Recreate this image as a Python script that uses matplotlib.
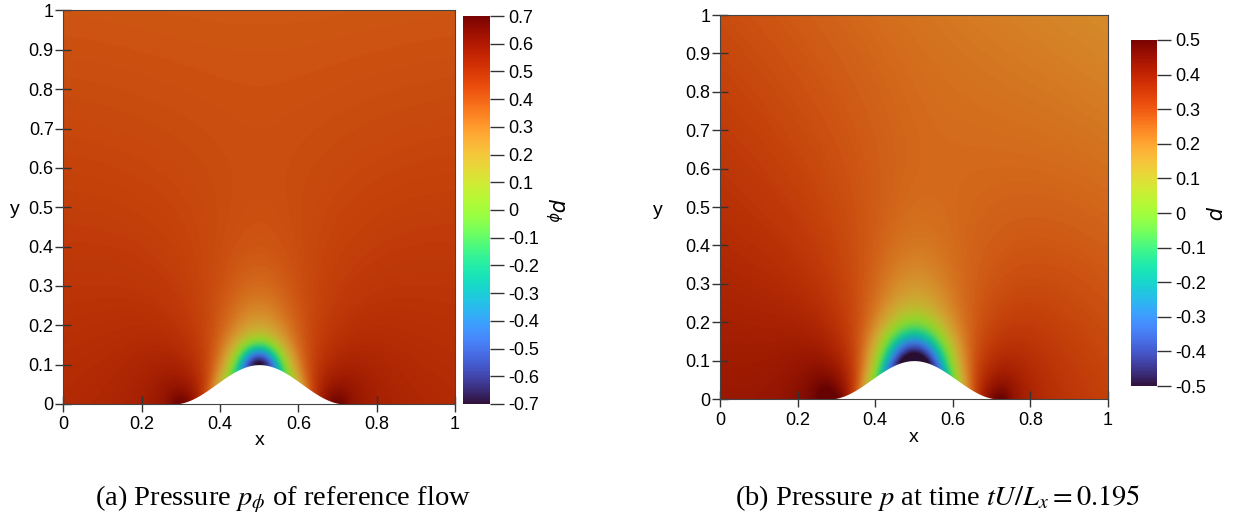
import numpy as np
import matplotlib as mpl

mpl.use('Agg')
import matplotlib.pyplot as plt
from matplotlib.colors import Normalize, ListedColormap
from matplotlib.cm import ScalarMappable

plt.rcParams['font.family'] = ['Liberation Sans', 'DejaVu Sans']
plt.rcParams['axes.unicode_minus'] = False

# ---- values ----
x_ticks = [0, 0.2, 0.4, 0.6, 0.8, 1]
x_tick_labels = ['0', '0.2', '0.4', '0.6', '0.8', '1']
y_ticks = [0, 0.1, 0.2, 0.3, 0.4, 0.5, 0.6, 0.7, 0.8, 0.9, 1]
y_tick_labels = ['0', '0.1', '0.2', '0.3', '0.4', '0.5', '0.6', '0.7', '0.8', '0.9', '1']

cbar_a_ticks = [-0.7, -0.6, -0.5, -0.4, -0.3, -0.2, -0.1, 0, 0.1, 0.2, 0.3, 0.4, 0.5, 0.6, 0.7]
cbar_a_labels = ['-0.7', '-0.6', '-0.5', '-0.4', '-0.3', '-0.2', '-0.1', '0',
                 '0.1', '0.2', '0.3', '0.4', '0.5', '0.6', '0.7']
cbar_b_ticks = [-0.5, -0.4, -0.3, -0.2, -0.1, 0, 0.1, 0.2, 0.3, 0.4, 0.5]
cbar_b_labels = ['-0.5', '-0.4', '-0.3', '-0.2', '-0.1', '0', '0.1', '0.2', '0.3', '0.4', '0.5']

# bump on the lower wall: centre, height, half width
bump = [0.5, 0.1, 0.22]

# far-field pressure at the corners: top-left, top-right, bottom-left, bottom-right
far_a = [0.40, 0.40, 0.50, 0.50]
far_b = [0.30, 0.20, 0.40, 0.30]
# disturbance of the bump: gain, spread in x, spread in y
dist_a = [0.6, 1.0, 1.5]
dist_b = [0.55, 1.1, 1.8]
# suction spot on the crest: strength, radius
crest_a = [0.5, 0.05]
crest_b = [0.3, 0.08]

captions = [r'(a) Pressure $p_\phi$ of reference flow',
            r'(b) Pressure $p$ at time $tU/L_x = 0.195$']
cbar_titles = [r'$p_\phi$', r'$p$']

# ---- pressure field from linearised potential flow over the bump ----
bc, bh, bw = bump
xg = np.linspace(0, 1, 300)
yg = np.linspace(0, 1, 300)
X, Y = np.meshgrid(xg, yg)
xi = np.linspace(bc - bw, bc + bw, 1200)
dxi = xi[1] - xi[0]
dh = -bh * np.pi / (2 * bw) * np.sin(np.pi * (xi - bc) / bw)


def bump_height(x):
    return np.where(np.abs(x - bc) < bw, bh * np.cos(np.pi * (x - bc) / (2 * bw)) ** 2, 0.0)


def pressure(far, dist, crest):
    gain, sx, sy = dist
    h = bump_height(X)
    eta = np.clip((Y - h) / (1 - h), 0.004, None) / sy
    xq = (bc + (X - bc) / sx).ravel()
    eq = eta.ravel()
    u = np.zeros_like(xq)
    v = np.zeros_like(xq)
    step = 3000
    for i in range(0, xq.size, step):
        dx = xq[i:i + step, None] - xi[None, :]
        e = eq[i:i + step, None]
        r2 = dx ** 2 + e ** 2
        u[i:i + step] = (dh * dx / r2).sum(1) * dxi / np.pi
        v[i:i + step] = (dh * e / r2).sum(1) * dxi / np.pi
    dp = 0.5 * (1 - (1 + u) ** 2 - v ** 2)
    tl, tr, bl, br = far
    base = tl * (1 - X) * Y + tr * X * Y + bl * (1 - X) * (1 - Y) + br * X * (1 - Y)
    spot = crest[0] * np.exp(-((X - bc) ** 2 + (Y - bh) ** 2) / crest[1] ** 2)
    return base + gain * dp.reshape(X.shape) - spot


fields = [pressure(far_a, dist_a, crest_a), pressure(far_b, dist_b, crest_b)]
limits = [(-0.7, 0.7), (-0.5, 0.5)]
cticks = [(cbar_a_ticks, cbar_a_labels), (cbar_b_ticks, cbar_b_labels)]

turbo = plt.get_cmap('turbo')
field_cmap = ListedColormap(turbo(np.linspace(0, 1, 256))[:, :3] * 0.84)

fig = plt.figure(figsize=(12.36, 5.18), dpi=100)
ax_pos = [[0.0513, 0.2201, 0.3168, 0.7597], [0.5825, 0.2297, 0.3139, 0.7413]]
cb_pos = [[0.3746, 0.2201, 0.0218, 0.749], [0.9150, 0.2548, 0.0210, 0.668]]
ylab_xy = [(-0.124, 0.493), (-0.16, 0.492)]
xlab_y = [-0.092, -0.099]
cb_title_x = [3.4, 3.15]
cap_x = [283 / 1236, 938 / 1236]

xb = np.linspace(bc - bw, bc + bw, 400)

for k in range(2):
    ax = fig.add_axes(ax_pos[k])
    norm = Normalize(*limits[k])
    ax.imshow(fields[k], origin='lower', extent=[0, 1, 0, 1], cmap=field_cmap, norm=norm,
              aspect='auto', interpolation='bilinear')
    ax.fill_between(xb, 0, bump_height(xb), color='white', lw=0, zorder=2)
    ax.set_xlim(0, 1)
    ax.set_ylim(0, 1)
    ax.set_xticks(x_ticks)
    ax.set_xticklabels(x_tick_labels)
    ax.set_yticks(y_ticks)
    ax.set_yticklabels(y_tick_labels)
    ax.tick_params(direction='inout', length=12, width=1, color='#333333', labelsize=13)
    ax.tick_params(axis='y', pad=1)
    ax.tick_params(axis='x', pad=3)
    for s in ax.spines.values():
        s.set_linewidth(0.8)
        s.set_color('#444444')
        s.set_zorder(3)
    ax.text(0.5, xlab_y[k], 'x', transform=ax.transAxes, ha='center', va='center', fontsize=14)
    ax.text(ylab_xy[k][0], ylab_xy[k][1], 'y', transform=ax.transAxes, ha='center', va='center',
            fontsize=14)

    cax = fig.add_axes(cb_pos[k])
    cb = fig.colorbar(ScalarMappable(norm=norm, cmap=turbo), cax=cax, ticks=cticks[k][0])
    cb.set_ticklabels(cticks[k][1])
    cb.outline.set_visible(False)
    cax.tick_params(direction='out', length=10, width=1, color='#333333', labelsize=13, pad=3)
    cax.text(cb_title_x[k], 0.5, cbar_titles[k], transform=cax.transAxes, rotation=270,
             ha='center', va='center', fontsize=15, math_fontfamily='dejavusans')

    fig.text(cap_x[k], 0.025, captions[k], ha='center', va='baseline', fontsize=20.5,
             family='Liberation Serif', math_fontfamily='stix')

fig.savefig('out.png', dpi=100)
